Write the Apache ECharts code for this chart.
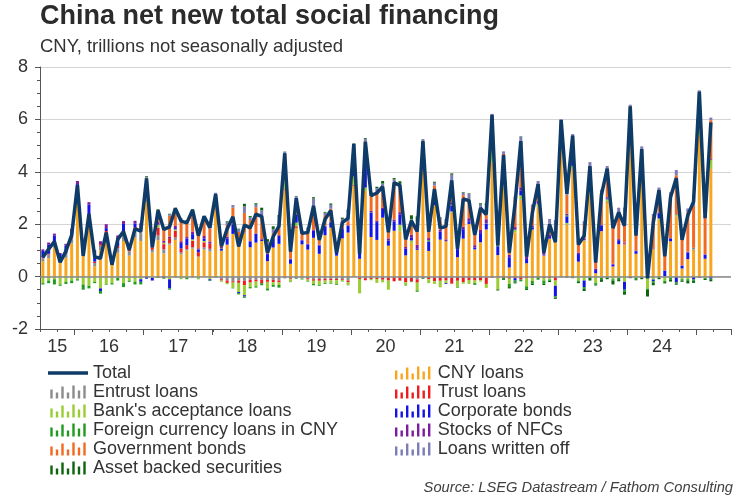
<!DOCTYPE html>
<html><head><meta charset="utf-8">
<script src="https://cdn.jsdelivr.net/npm/echarts/dist/echarts.min.js"></script>
<style>html,body{margin:0;padding:0;background:#fff}#c{width:750px;height:500px}</style>
</head><body><div id="c"></div>
<script>
// Axis spans Jul 2015 .. Jun 2025 (monthly), data Jul 2015 .. Mar 2025
const startYear = 2015, startMonth = 7, axisMonths = 120;
const yearLabels = ['15','16','17','18','19','20','21','22','23','24'];

// CNY trillions
const total = [
  0.74, 1.05, 1.34, 0.55, 0.97, 1.58,
  3.50, 0.79, 2.39, 0.76, 0.70, 1.68, 0.45, 1.42, 1.72, 1.02, 1.83, 1.73,
  3.75, 1.12, 2.52, 1.80, 1.90, 2.60, 2.12, 2.05, 2.54, 1.56, 2.30, 1.87,
  3.15, 1.16, 1.82, 2.28, 1.15, 1.97, 1.86, 2.38, 2.30, 0.90, 1.53, 1.93,
  4.70, 0.95, 2.99, 1.65, 1.68, 2.70, 1.40, 2.19, 2.52, 0.89, 2.06, 2.23,
  5.07, 0.87, 5.15, 3.09, 3.19, 3.43, 1.69, 3.58, 3.48, 1.42, 2.13, 1.72,
  5.17, 1.71, 3.34, 1.85, 1.92, 3.67, 1.06, 2.96, 2.90, 1.59, 2.61, 2.37,
  6.17, 1.19, 4.65, 0.91, 2.79, 5.17, 0.76, 2.43, 3.53, 0.91, 1.99, 1.31,
  5.98, 3.16, 5.38, 1.22, 1.56, 4.22, 0.53, 3.12, 4.12, 1.85, 2.45, 1.94,
  6.50, 1.56, 4.87, -0.07, 2.06, 3.30, 0.77, 3.03, 3.76, 1.40, 2.34, 2.86,
  7.06, 2.23, 5.89
];
const cnyLoans = [
  0.58, 0.70, 1.10, 0.54, 0.72, 1.27,
  3.05, 0.80, 2.02, 0.40, 1.01, 1.29, 0.47, 0.91, 1.36, 0.80, 1.49, 1.36,
  2.85, 0.92, 1.39, 0.89, 1.22, 1.40, 0.85, 1.00, 1.07, 0.75, 1.03, 0.96,
  2.56, 0.99, 1.22, 1.63, 1.27, 1.65, 1.12, 1.30, 1.36, 0.59, 1.11, 1.25,
  3.30, 0.49, 1.86, 1.23, 1.03, 1.48, 0.87, 1.58, 1.87, 0.80, 1.46, 1.68,
  3.47, 0.68, 3.27, 1.51, 1.40, 2.25, 1.18, 1.75, 1.73, 0.81, 1.28, 1.02,
  4.05, 0.98, 2.73, 1.41, 1.34, 2.44, 0.74, 1.45, 2.01, 1.04, 1.31, 1.80,
  4.34, 0.82, 3.41, 0.35, 1.69, 2.92, 0.51, 1.78, 2.65, 0.79, 1.43, 1.47,
  5.08, 1.98, 4.10, 0.56, 1.38, 3.17, 0.13, 1.72, 2.82, 0.38, 1.23, 1.22,
  5.11, 0.87, 4.11, 0.47, 1.07, 2.16, 0.02, 1.34, 2.29, 0.31, 0.66, 1.00,
  5.37, 0.68, 4.10
];
const govBonds = [
  0, 0, 0, 0, 0, 0,
  0, 0, 0, 0, 0, 0, 0, 0, 0, 0, 0, 0,
  0.05, 0.05, 0.40, 0.45, 0.80, 0.50, 0.80, 0.55, 0.70, 0.50, 0.65, 0.50,
  0.10, 0.15, 0.45, 0.60, 0.40, 0.75, 0.80, 1.00, 0.90, 0.35, 0.20, 0.30,
  0.39, 0.43, 0.58, 0.24, 0.50, 0.90, 0.40, 0.40, 0.50, 0.03, 0.20, 0.15,
  0.59, 0.40, 0.68, 0.60, 1.13, 0.62, 0.52, 1.38, 0.88, 0.48, 0.39, 0.49,
  0.27, 0.43, 0.32, 0.35, 0.67, 0.75, 0.21, 1.20, 0.73, 0.61, 0.82, 0.16,
  0.60, 0.37, 0.71, 0.45, 1.06, 1.62, 0.40, 0.70, 0.57, 0.23, 0.39, 0.13,
  0.42, 0.72, 0.69, 0.45, 0.55, 0.54, 0.41, 1.18, 0.99, 1.56, 1.00, 0.93,
  0.29, 0.62, 0.47, 0.05, 1.22, 0.85, 0.69, 1.60, 1.50, 1.07, 1.50, 1.60,
  0.90, 1.45, 1.48
];
const corporateBonds = [
  0.26, 0.36, 0.30, 0.20, 0.30, 0.22,
  0.17, 0.27, 0.46, 0.34, -0.10, 0.11, 0.05, 0.30, 0.29, 0.11, 0.14, -0.10,
  -0.08, -0.10, 0.02, -0.05, -0.35, 0.05, 0.20, 0.25, 0.20, 0.10, 0.10, -0.05,
  0.20, 0.07, 0.24, 0.35, -0.04, -0.05, 0.22, 0.33, 0.04, 0.27, 0.33, 0.30,
  0.49, 0.17, 0.30, 0.15, 0.20, 0.27, 0.32, 0.34, 0.20, 0.24, 0.35, 0.25,
  0.40, 0.29, 0.99, 0.93, 0.68, 0.33, 0.20, 0.36, 0.38, 0.25, 0.10, 0.04,
  0.13, 0.36, 0.30, 0.30, -0.03, 0.22, 0.31, 0.36, 0.10, 0.06, 0.35, 0.22,
  0.51, 0.34, 0.34, 0.39, -0.09, 0.19, 0.16, 0.07, 0.02, 0.02, 0.06, -0.40,
  0.15, 0.25, 0.32, 0.29, -0.25, 0.20, 0.12, 0.20, 0.03, 0.07, 0.15, -0.30,
  0.48, 0.10, 0.20, 0.07, -0.06, 0.20, 0.20, 0.10, -0.20, 0.10, 0.25, -0.10,
  0.30, 0.15, -0.08
];
const entrustLoans = [
  0.12, 0.14, 0.12, 0.10, 0.14, 0.20,
  0.21, 0.13, 0.24, 0.12, 0.17, 0.26, 0.10, 0.18, 0.21, 0.17, 0.30, 0.35,
  0.20, 0.10, 0.18, 0.15, 0.05, 0.10, 0.08, 0.05, 0.05, 0.03, 0.08, 0.10,
  -0.05, -0.10, -0.15, -0.18, -0.15, -0.16, -0.12, -0.12, -0.12, -0.13, -0.12, -0.15,
  -0.07, -0.07, -0.07, -0.05, -0.06, -0.10, -0.09, -0.08, -0.08, -0.09, -0.10, -0.15,
  -0.01, -0.04, -0.06, -0.04, -0.04, -0.04, -0.03, -0.03, -0.02, -0.04, -0.05, -0.10,
  -0.03, -0.02, -0.03, -0.01, -0.02, -0.05, -0.02, -0.01, -0.01, -0.02, -0.01, -0.03,
  0.01, -0.01, 0.00, -0.02, 0.00, 0.03, -0.01, 0.02, 0.03, 0.02, 0.02, 0.02,
  0.01, 0.02, 0.02, 0.01, 0.01, 0.02, 0.00, 0.01, 0.01, 0.00, 0.00, 0.01,
  -0.01, 0.00, 0.00, -0.01, -0.01, 0.00, -0.01, 0.00, -0.01, 0.00, 0.00, -0.01,
  -0.01, 0.00, 0.00
];
const trustLoans = [
  0.02, 0.03, 0.04, 0.02, 0.03, 0.05,
  0.10, 0.03, 0.03, 0.05, 0.06, 0.19, 0.03, 0.08, 0.15, 0.05, 0.10, 0.20,
  0.20, 0.10, 0.30, 0.20, 0.20, 0.25, 0.15, 0.15, 0.25, 0.15, 0.20, 0.20,
  0.04, -0.05, -0.09, -0.05, -0.09, -0.17, -0.11, -0.07, -0.13, -0.07, -0.09, -0.07,
  0.03, -0.03, 0.06, -0.01, -0.05, -0.06, -0.07, -0.07, -0.06, -0.05, -0.03, -0.07,
  0.03, -0.05, -0.08, -0.05, -0.05, -0.08, -0.12, -0.15, -0.13, -0.18, -0.14, -0.13,
  -0.02, -0.08, -0.15, -0.15, -0.13, -0.22, -0.14, -0.20, -0.12, -0.13, -0.13, -0.25,
  -0.04, -0.03, -0.05, -0.06, -0.06, -0.11, -0.06, -0.05, 0.00, -0.05, -0.06, -0.15,
  0.02, 0.00, 0.01, 0.00, 0.00, 0.01, 0.00, 0.01, 0.02, 0.01, 0.01, 0.03,
  0.01, 0.00, 0.01, 0.00, 0.00, 0.01, 0.00, 0.01, 0.01, 0.00, 0.01, 0.02,
  0.01, 0.00, 0.01
];
const bankAcceptance = [
  -0.25, -0.15, -0.10, -0.30, -0.20, -0.15,
  -0.10, -0.30, -0.35, -0.20, -0.45, -0.30, -0.25, -0.05, -0.25, -0.15, -0.20, -0.10,
  0.35, -0.05, 0.10, 0.05, -0.10, 0.05, -0.10, -0.05, 0.05, -0.08, 0.05, -0.10,
  0.15, -0.05, -0.05, -0.20, -0.35, -0.38, -0.17, -0.18, 0.00, -0.25, -0.10, -0.10,
  0.38, -0.10, 0.14, -0.02, -0.06, -0.12, -0.15, -0.10, -0.10, -0.15, -0.05, -0.10,
  0.33, -0.55, 0.13, -0.05, -0.15, -0.10, -0.35, 0.00, 0.25, -0.10, 0.10, -0.30,
  0.50, -0.15, -0.10, -0.25, -0.10, 0.05, -0.25, -0.05, -0.15, -0.10, -0.05, -0.15,
  0.50, -0.45, 0.10, -0.20, 0.10, 0.15, -0.30, -0.12, 0.08, -0.10, -0.05, -0.20,
  0.16, 0.05, 0.10, -0.15, -0.15, 0.05, -0.25, -0.05, 0.10, -0.10, -0.05, -0.20,
  0.55, -0.05, 0.05, -0.45, -0.10, 0.05, -0.15, -0.05, 0.05, -0.10, -0.10, 0.05,
  0.45, -0.05, 0.35
];
const fxLoans = [
  -0.05, -0.10, -0.20, -0.05, -0.08, -0.10,
  -0.05, -0.20, -0.10, -0.05, -0.10, -0.02, -0.05, -0.10, -0.15, -0.05, -0.10, -0.10,
  0.05, 0.00, -0.05, -0.03, -0.05, -0.03, 0.00, -0.05, -0.03, -0.02, 0.00, -0.02,
  0.05, 0.02, 0.00, -0.02, -0.05, -0.05, -0.05, -0.05, -0.08, -0.08, -0.08, -0.10,
  0.03, -0.01, -0.02, -0.03, -0.02, -0.05, -0.04, -0.03, -0.03, -0.03, -0.01, -0.01,
  0.09, 0.05, 0.04, 0.01, 0.00, 0.00, 0.00, 0.00, -0.01, -0.02, -0.02, -0.05,
  0.10, 0.05, 0.03, 0.00, 0.01, 0.03, -0.02, -0.01, 0.00, -0.05, 0.00, 0.01,
  0.07, 0.04, -0.05, -0.12, -0.07, -0.07, -0.10, -0.10, -0.10, -0.12, -0.05, -0.05,
  0.01, 0.04, -0.03, -0.05, -0.05, -0.05, -0.05, -0.05, -0.05, -0.05, -0.05, -0.07,
  0.00, -0.05, -0.05, -0.05, -0.06, -0.05, -0.05, -0.06, -0.05, -0.05, -0.06, -0.05,
  -0.02, -0.03, -0.05
];
const stocksNFC = [
  0.06, 0.07, 0.08, 0.04, 0.06, 0.09,
  0.12, 0.06, 0.09, 0.10, 0.11, 0.15, 0.10, 0.10, 0.11, 0.09, 0.10, 0.12,
  0.07, 0.05, 0.10, 0.07, 0.05, 0.08, 0.07, 0.06, 0.10, 0.05, 0.09, 0.08,
  0.05, 0.05, 0.06, 0.05, 0.04, 0.03, 0.02, 0.02, 0.03, 0.02, 0.03, 0.03,
  0.03, 0.02, 0.02, 0.02, 0.02, 0.03, 0.03, 0.02, 0.02, 0.02, 0.04, 0.03,
  0.04, 0.02, 0.05, 0.06, 0.05, 0.05, 0.08, 0.07, 0.10, 0.07, 0.12, 0.15,
  0.10, 0.08, 0.10, 0.08, 0.07, 0.10, 0.10, 0.10, 0.12, 0.10, 0.12, 0.16,
  0.10, 0.10, 0.12, 0.09, 0.10, 0.12, 0.10, 0.08, 0.10, 0.07, 0.10, 0.14,
  0.08, 0.06, 0.08, 0.06, 0.07, 0.08, 0.06, 0.05, 0.05, 0.03, 0.04, 0.04,
  0.06, 0.03, 0.03, 0.02, 0.02, 0.03, 0.02, 0.02, 0.02, 0.02, 0.03, 0.03,
  0.03, 0.02, 0.03
];
const assetBacked = [
  0, 0, 0, 0, 0, 0,
  0, 0, 0, 0, 0, 0, 0, 0, 0, 0, 0, 0,
  0.03, 0.02, 0.03, 0.02, 0.03, 0.05, 0.02, 0.04, 0.05, 0.03, 0.05, 0.05,
  0.00, 0.03, 0.04, 0.00, 0.02, 0.10, 0.05, 0.05, 0.10, 0.10, 0.10, 0.12,
  0.02, 0.00, 0.02, 0.02, 0.02, 0.05, 0.03, 0.03, 0.05, 0.02, 0.05, 0.10,
  0.03, 0.01, 0.03, 0.02, 0.05, 0.10, 0.06, 0.05, 0.10, 0.05, 0.15, 0.20,
  -0.03, 0.01, 0.04, 0.02, 0.01, 0.05, 0.03, 0.02, 0.02, -0.02, 0.05, 0.10,
  0.00, -0.04, -0.03, -0.05, -0.04, 0.02, -0.04, -0.05, -0.02, -0.05, -0.05, -0.05,
  -0.02, -0.04, -0.03, -0.05, -0.10, -0.10, -0.04, -0.10, -0.05, -0.15, -0.08, -0.12,
  -0.05, -0.04, -0.05, -0.25, -0.10, -0.05, -0.05, -0.08, -0.05, -0.05, -0.10, -0.08,
  -0.02, -0.05, -0.05
];
const writtenOff = [
  0, 0, 0, 0, 0, 0,
  0, 0, 0, 0, 0, 0, 0, 0, 0, 0, 0, 0,
  0.03, 0.03, 0.05, 0.05, 0.05, 0.15, 0.05, 0.05, 0.10, 0.05, 0.05, 0.15,
  0.05, 0.05, 0.10, 0.10, 0.10, 0.25, 0.10, 0.10, 0.20, 0.10, 0.15, 0.35,
  0.10, 0.05, 0.10, 0.10, 0.10, 0.30, 0.10, 0.10, 0.15, 0.10, 0.15, 0.35,
  0.10, 0.06, 0.10, 0.10, 0.12, 0.30, 0.15, 0.15, 0.20, 0.10, 0.20, 0.40,
  0.10, 0.05, 0.10, 0.10, 0.10, 0.30, 0.10, 0.10, 0.20, 0.10, 0.15, 0.35,
  0.08, 0.05, 0.10, 0.08, 0.10, 0.30, 0.10, 0.10, 0.20, 0.10, 0.20, 0.40,
  0.07, 0.08, 0.12, 0.10, 0.10, 0.30, 0.15, 0.15, 0.20, 0.10, 0.20, 0.40,
  0.06, 0.08, 0.10, 0.08, 0.08, 0.10, 0.10, 0.15, 0.20, 0.10, 0.15, 0.40,
  0.05, 0.06, 0.10
];

const categories = [];
for (let k = 0; k < axisMonths; k++) {
  const m = startMonth - 1 + k;
  const y = startYear + Math.floor(m / 12);
  const mm = (m % 12) + 1;
  categories.push(y + '-' + (mm < 10 ? '0' + mm : '' + mm));
}

const FONT = '"Liberation Sans", Arial, Helvetica, sans-serif';
const stripe = 'path://M0,4h2.4v9h-2.4z M5.5,7h2.4v6h-2.4z M11,1h2.4v12h-2.4z M16.5,7h2.4v6h-2.4z M22,0h2.4v13h-2.4z M27.5,5h2.4v8h-2.4z M33,0h2.4v13h-2.4z';
const lineIcon = 'path://M0,0h40v3.5h-40z';

const barDefs = [
  ['CNY loans', cnyLoans, '#F9A61E'],
  ['Entrust loans', entrustLoans, '#8C8C8C'],
  ['Trust loans', trustLoans, '#EE1C1C'],
  ["Bank's acceptance loans", bankAcceptance, '#9ACD32'],
  ['Corporate bonds', corporateBonds, '#1414E6'],
  ['Foreign currency loans in CNY', fxLoans, '#1F9A1F'],
  ['Stocks of NFCs', stocksNFC, '#7E1C9E'],
  ['Government bonds', govBonds, '#F26A22'],
  ['Loans written off', writtenOff, '#7C7CB6'],
  ['Asset backed securities', assetBacked, '#0C650C']
];

const series = barDefs.map(function (d, idx) {
  const s = {
    name: d[0], type: 'bar', stack: 'tsf', data: d[1], barWidth: 3,
    itemStyle: { color: d[2] }, emphasis: { disabled: true }, animation: false, z: 2
  };
  if (idx === 0) {
    s.markLine = {
      silent: true, symbol: ['none', 'none'], label: { show: false }, animation: false,
      lineStyle: { color: '#8A8A8A', width: 1.5, type: 'solid' },
      data: [{ yAxis: 0 }]
    };
  }
  return s;
});
series.push({
  name: 'Total', type: 'line', data: total, symbol: 'none', z: 5,
  lineStyle: { color: '#0E3B67', width: 3.5 }, itemStyle: { color: '#0E3B67' },
  emphasis: { disabled: true }, animation: false
});

const legendText = { fontSize: 18, color: '#333', fontFamily: FONT };
const option = {
  backgroundColor: '#fff',
  animation: false,
  title: [
    { text: 'China net new total social financing', left: 40, top: 3, padding: 0,
      textStyle: { fontSize: 27, fontWeight: 'bold', color: '#2B2B2B', fontFamily: FONT } },
    { text: 'CNY, trillions not seasonally adjusted', left: 40, top: 37, padding: 0,
      textStyle: { fontSize: 18.5, fontWeight: 'normal', color: '#333', fontFamily: FONT } },
    { text: 'Source: LSEG Datastream / Fathom Consulting', right: 17, top: 480, padding: 0,
      textStyle: { fontSize: 14.7, fontWeight: 'normal', fontStyle: 'italic', color: '#404040', fontFamily: FONT } }
  ],
  legend: [
    { left: 48, top: 364, orient: 'vertical', itemWidth: 40, itemHeight: 13, itemGap: 1, padding: 0,
      selectedMode: false, textStyle: legendText,
      data: [
        { name: 'Total', icon: lineIcon },
        { name: 'Entrust loans', icon: stripe },
        { name: "Bank's acceptance loans", icon: stripe },
        { name: 'Foreign currency loans in CNY', icon: stripe },
        { name: 'Government bonds', icon: stripe },
        { name: 'Asset backed securities', icon: stripe }
      ] },
    { left: 395, top: 364, orient: 'vertical', itemWidth: 40, itemHeight: 13, itemGap: 1, padding: 0,
      selectedMode: false, textStyle: legendText,
      data: [
        { name: 'CNY loans', icon: stripe },
        { name: 'Trust loans', icon: stripe },
        { name: 'Corporate bonds', icon: stripe },
        { name: 'Stocks of NFCs', icon: stripe },
        { name: 'Loans written off', icon: stripe }
      ] }
  ],
  grid: { left: 40, right: 19, top: 67, bottom: 171, containLabel: false, outerBoundsMode: 'none' },
  xAxis: [
    { type: 'category', data: categories, boundaryGap: true, position: 'bottom',
      axisLine: { show: true, onZero: false, lineStyle: { color: '#555', width: 1 } },
      axisTick: { show: true, length: 6, interval: function (i, v) { return /-01$/.test(v); },
        lineStyle: { color: '#555' } },
      axisLabel: { show: false }, splitLine: { show: false } },
    { type: 'value', min: 0, max: axisMonths, interval: 3, position: 'bottom',
      axisLine: { show: false, onZero: false },
      axisTick: { show: true, length: 3, lineStyle: { color: '#555' } },
      splitLine: { show: false },
      axisLabel: { fontSize: 18, color: '#333', margin: 9, fontFamily: FONT,
        showMinLabel: true, showMaxLabel: true,
        formatter: function (v) {
          if (v === 3) return yearLabels[0];
          if (v % 12 === 0 && v >= 12 && v / 12 < yearLabels.length) return yearLabels[v / 12];
          return '';
        } } }
  ],
  yAxis: {
    type: 'value', min: -2, max: 8, interval: 2,
    axisLine: { show: true, onZero: false, lineStyle: { color: '#555' } },
    axisTick: { show: true, length: 5, lineStyle: { color: '#555' } },
    minorTick: { show: true, splitNumber: 4, length: 3, lineStyle: { color: '#555' } },
    splitLine: { show: true, lineStyle: { color: '#D4D4D4', width: 1 } },
    minorSplitLine: { show: false },
    axisLabel: { fontSize: 18, color: '#333', margin: 12, fontFamily: FONT }
  },
  series: series
};

const chart = echarts.init(document.getElementById('c'), null, { renderer: 'canvas' });
chart.setOption(option);
</script>
</body></html>
